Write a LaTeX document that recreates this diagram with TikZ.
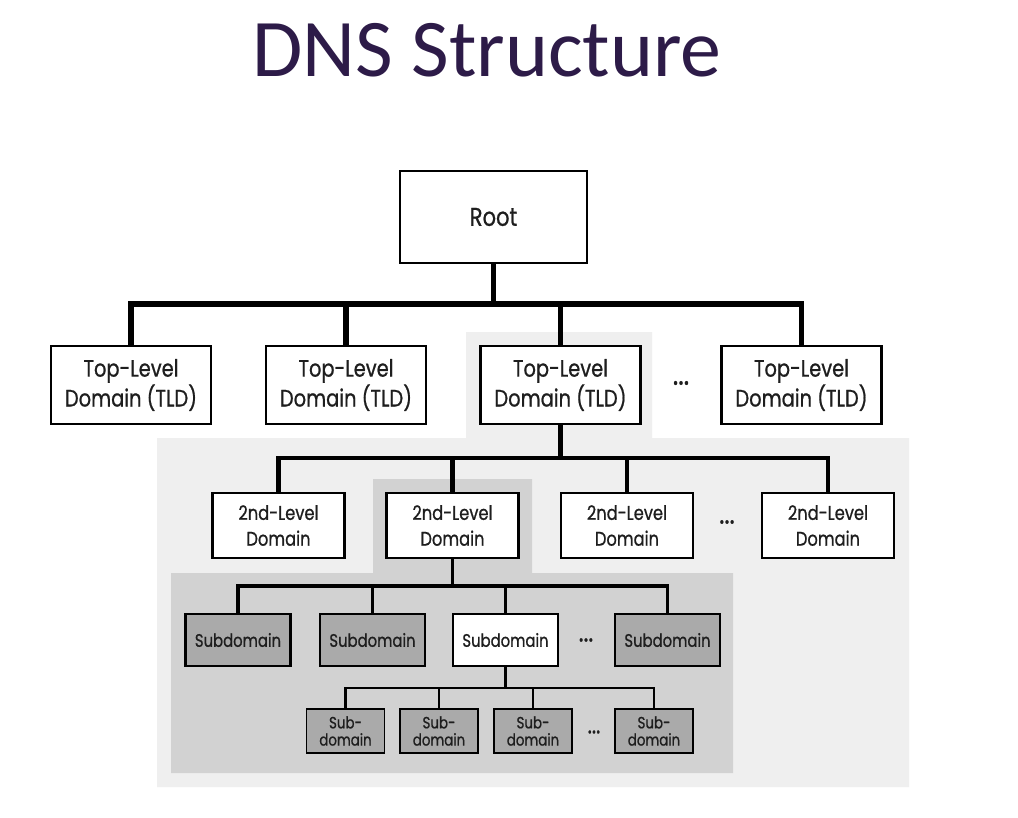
\documentclass[tikz,border=0pt]{standalone}
\usepackage{fontspec}
\newfontfamily\titlefont{Carlito}
\newfontfamily\boxfont[FakeStretch=0.82,FakeBold=0.8]{Poppins}
\definecolor{titlecol}{RGB}{45,27,72}
\definecolor{lightreg}{RGB}{239,239,239}
\definecolor{midreg}{RGB}{210,210,210}
\definecolor{subfill}{RGB}{170,170,170}
\definecolor{textcol}{RGB}{30,30,30}
\begin{document}
\begin{tikzpicture}[x=0.02cm,y=-0.02cm,
  box/.style={draw=black,rectangle,inner sep=0pt,align=center,text=textcol},
  rootbox/.style={box,line width=1.3pt,fill=white,minimum width=3.74cm,minimum height=1.84cm,font=\boxfont\fontsize{14.6}{17}\selectfont},
  tldbox/.style={box,line width=1.3pt,fill=white,minimum width=3.2cm,minimum height=1.56cm,font=\boxfont\fontsize{13.5}{17}\selectfont},
  slbox/.style={box,line width=1.3pt,fill=white,minimum width=2.64cm,minimum height=1.3cm,font=\boxfont\fontsize{11.3}{14.7}\selectfont},
  subbox/.style={box,line width=1.2pt,fill=subfill,minimum width=2.1cm,minimum height=1.04cm,font=\boxfont\fontsize{10.3}{12}\selectfont},
  ssbox/.style={box,line width=1.1pt,fill=subfill,minimum width=1.56cm,minimum height=0.88cm,font=\boxfont\fontsize{9.3}{9.8}\selectfont},
  dots/.style={font=\boxfont\fontsize{#1}{#1}\selectfont,inner sep=0pt,text=textcol},
  lvlone/.style={line width=3.2pt},
  lvltwo/.style={line width=2.8pt},
  lvlthree/.style={line width=2.1pt},
  lvlfour/.style={line width=1.5pt}]
\useasboundingbox (0,0) rectangle (1018,818);
\fill[white] (0,0) rectangle (1018,818);

% shaded regions
\fill[lightreg] (466,332) -- (652,332) -- (652,438) -- (909,438) -- (909,787) -- (157,787) -- (157,438) -- (466,438) -- cycle;
\fill[midreg] (373,479) -- (532,479) -- (532,573) -- (733,573) -- (733,773) -- (171,773) -- (171,573) -- (373,573) -- cycle;

% title
\node[font=\titlefont\fontsize{46.6}{50}\selectfont,text=titlecol,anchor=base,inner sep=0pt] (title) at (487,76) {DNS Structure};

% nodes
\node[rootbox] (root) at (493.5,217) {Root};

\node[tldbox] (tld1) at (131,385) {Top-Level\\Domain (TLD)};
\node[tldbox] (tld2) at (346,385) {Top-Level\\Domain (TLD)};
\node[tldbox] (tld3) at (560.5,385) {Top-Level\\Domain (TLD)};
\node[tldbox] (tld4) at (801.5,385) {Top-Level\\Domain (TLD)};
\node[dots=18] (d1) at (681,383) {...};

\node[slbox] (sl1) at (278.5,525.5) {2nd-Level\\Domain};
\node[slbox] (sl2) at (452.5,525.5) {2nd-Level\\Domain};
\node[slbox] (sl3) at (627,525.5) {2nd-Level\\Domain};
\node[slbox] (sl4) at (828,525.5) {2nd-Level\\Domain};
\node[dots=17] (d2) at (727,522) {...};

\node[subbox] (sub1) at (238,640) {Subdomain};
\node[subbox] (sub2) at (372.5,640) {Subdomain};
\node[subbox,fill=white] (sub3) at (505.5,640) {Subdomain};
\node[subbox] (sub4) at (667.5,640) {Subdomain};
\node[dots=16] (d3) at (586,640) {...};

\node[ssbox] (ss1) at (345.5,731) {Sub-\\domain};
\node[ssbox] (ss2) at (439,731) {Sub-\\domain};
\node[ssbox] (ss3) at (533,731) {Sub-\\domain};
\node[ssbox] (ss4) at (654,731) {Sub-\\domain};
\node[dots=14] (d4) at (594,732) {...};

% bar levels
\coordinate (b1) at (0,304);
\coordinate (b2) at (0,458);
\coordinate (b3) at (0,586);
\coordinate (b4) at (0,688);

% connectors
\foreach \c in {tld1,tld2,tld3,tld4}
  \draw[lvlone] (root.south) -- (root.south |- b1) -| (\c.north);
\foreach \c in {sl1,sl2,sl3,sl4}
  \draw[lvltwo] (tld3.south) -- (tld3.south |- b2) -| (\c.north);
\foreach \c in {sub1,sub2,sub3,sub4}
  \draw[lvlthree] (sl2.south) -- (sl2.south |- b3) -| (\c.north);
\foreach \c in {ss1,ss2,ss3,ss4}
  \draw[lvlfour] (sub3.south) -- (sub3.south |- b4) -| (\c.north);
\end{tikzpicture}
\end{document}
